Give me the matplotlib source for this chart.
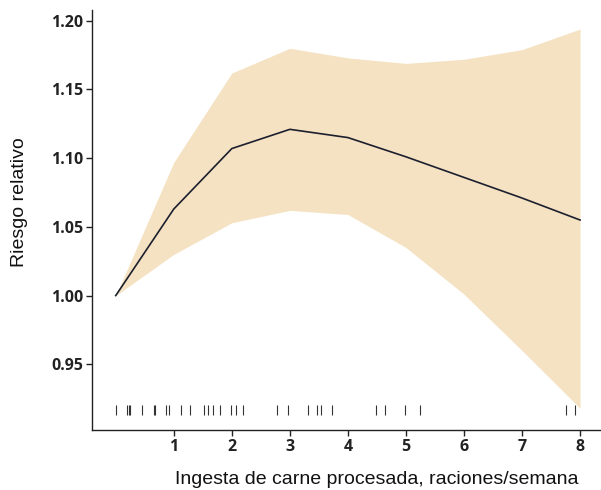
import matplotlib
matplotlib.use('Agg')
import matplotlib.pyplot as plt
import numpy as np

# spline estimate
x = [0, 1, 2, 3, 4, 5, 6, 7, 8]
rr = [1.000, 1.063, 1.107, 1.121, 1.115, 1.101, 1.086, 1.071, 1.055]
upper = [1.000, 1.097, 1.162, 1.180, 1.173, 1.169, 1.172, 1.179, 1.194]
lower = [1.000, 1.030, 1.053, 1.062, 1.059, 1.035, 1.001, 0.960, 0.918]

# observed intakes (rug)
rug = [0.0, 0.19, 0.22, 0.25, 0.45, 0.66, 0.68, 0.87, 0.91, 1.12, 1.28,
       1.52, 1.59, 1.68, 1.79, 1.99, 2.08, 2.19, 2.78, 2.97, 3.32, 3.47,
       3.53, 3.72, 4.49, 4.64, 4.98, 5.24, 7.76, 7.91]

xticks = [1, 2, 3, 4, 5, 6, 7, 8]
yticks = [0.95, 1.00, 1.05, 1.10, 1.15, 1.20]

fig = plt.figure(figsize=(6.01, 4.90), dpi=100)
ax = fig.add_axes([0.153, 0.122, 0.845, 0.858])

ax.fill_between(x, lower, upper, color='#f5e2c2', linewidth=0)
ax.plot(x, rr, color='#1c1f2e', linewidth=1.2)
ax.vlines(rug, 0.9133, 0.9206, color='#333333', linewidth=0.8)

ax.set_xlim(-0.41, 8.34)
ax.set_ylim(0.902, 1.208)
ax.set_xticks(xticks)
ax.set_xticklabels([str(t) for t in xticks])
ax.set_yticks(yticks)
ax.set_yticklabels(['%.2f' % t for t in yticks])

for s in ['top', 'right']:
    ax.spines[s].set_visible(False)
for s in ['left', 'bottom']:
    ax.spines[s].set_color('#222222')
    ax.spines[s].set_linewidth(1.0)

ax.tick_params(axis='both', direction='out', length=4, width=1,
               color='#222222', labelsize=11.5, pad=2)
for lab in ax.get_xticklabels() + ax.get_yticklabels():
    lab.set_fontfamily('Open Sans')
    lab.set_fontweight('bold')
    lab.set_color('#222222')

ax.set_xlabel('Ingesta de carne procesada, raciones/semana',
              fontfamily='Liberation Sans', fontsize=14, color='#111111')
ax.xaxis.set_label_coords(0.561, -0.098)
ax.set_ylabel('Riesgo relativo', fontfamily='Liberation Sans',
              fontsize=14, color='#111111')
ax.yaxis.set_label_coords(-0.126, 0.543)

fig.savefig('out.png', dpi=100)
